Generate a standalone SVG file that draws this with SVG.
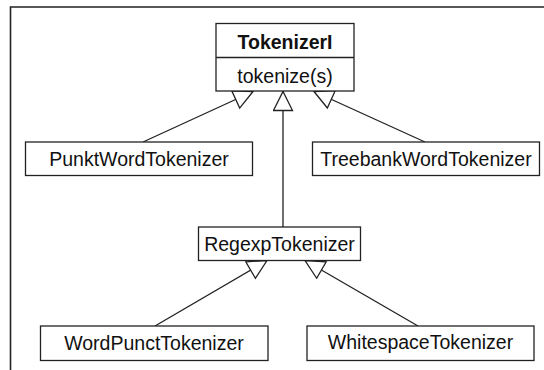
<svg xmlns="http://www.w3.org/2000/svg" width="544" height="370" viewBox="0 0 544 370">
<defs>
<marker id="gen" markerUnits="userSpaceOnUse" markerWidth="22" markerHeight="22" viewBox="-1 -1 22 22" refX="19" refY="9.5" orient="auto">
<path d="M0,0 L19,9.5 L0,19 Z" fill="#fff" stroke="#222" stroke-width="1.3"/>
</marker>
</defs>
<style>
.box{fill:#fff;stroke:#222;stroke-width:1.3}
.lbl{font-family:"Liberation Sans",Arial,sans-serif;font-size:19.5px;fill:#111;text-anchor:middle}
.bold{font-weight:bold;font-size:19.5px}
.conn{stroke:#222;stroke-width:1.3;fill:none}
.frame{stroke:#222;stroke-width:1.6;fill:none}
</style>
<rect width="544" height="370" fill="#fff"/>
<path class="frame" d="M10.5,370 V7 H544"/>
<g id="connectors">
<path class="conn" d="M143,142 L253,91.5" marker-end="url(#gen)"/>
<path class="conn" d="M283,227 L283,91.5" marker-end="url(#gen)"/>
<path class="conn" d="M425,142 L314,91.5" marker-end="url(#gen)"/>
<path class="conn" d="M155,326 L267,260.5" marker-end="url(#gen)"/>
<path class="conn" d="M418,326 L305,260.5" marker-end="url(#gen)"/>
</g>
<g id="TokenizerI">
<rect class="box" x="216" y="23.5" width="138" height="67.5"/>
<line class="conn" x1="216" y1="57.5" x2="354" y2="57.5"/>
<text class="lbl bold" x="285" y="49">TokenizerI</text>
<text class="lbl" x="285" y="83">tokenize(s)</text>
</g>
<g id="PunktWordTokenizer">
<rect class="box" x="25.5" y="142" width="227" height="33.5"/>
<text class="lbl" x="139" y="166">PunktWordTokenizer</text>
</g>
<g id="TreebankWordTokenizer">
<rect class="box" x="312.5" y="142" width="227" height="33.5"/>
<text class="lbl" x="426" y="166">TreebankWordTokenizer</text>
</g>
<g id="RegexpTokenizer">
<rect class="box" x="198.5" y="227" width="162" height="33.5"/>
<text class="lbl" x="279.5" y="251">RegexpTokenizer</text>
</g>
<g id="WordPunctTokenizer">
<rect class="box" x="40.5" y="326" width="227.5" height="34.5"/>
<text class="lbl" x="154" y="350">WordPunctTokenizer</text>
</g>
<g id="WhitespaceTokenizer">
<rect class="box" x="307" y="326" width="227" height="34.5"/>
<text class="lbl" x="420.5" y="349">WhitespaceTokenizer</text>
</g>
</svg>
